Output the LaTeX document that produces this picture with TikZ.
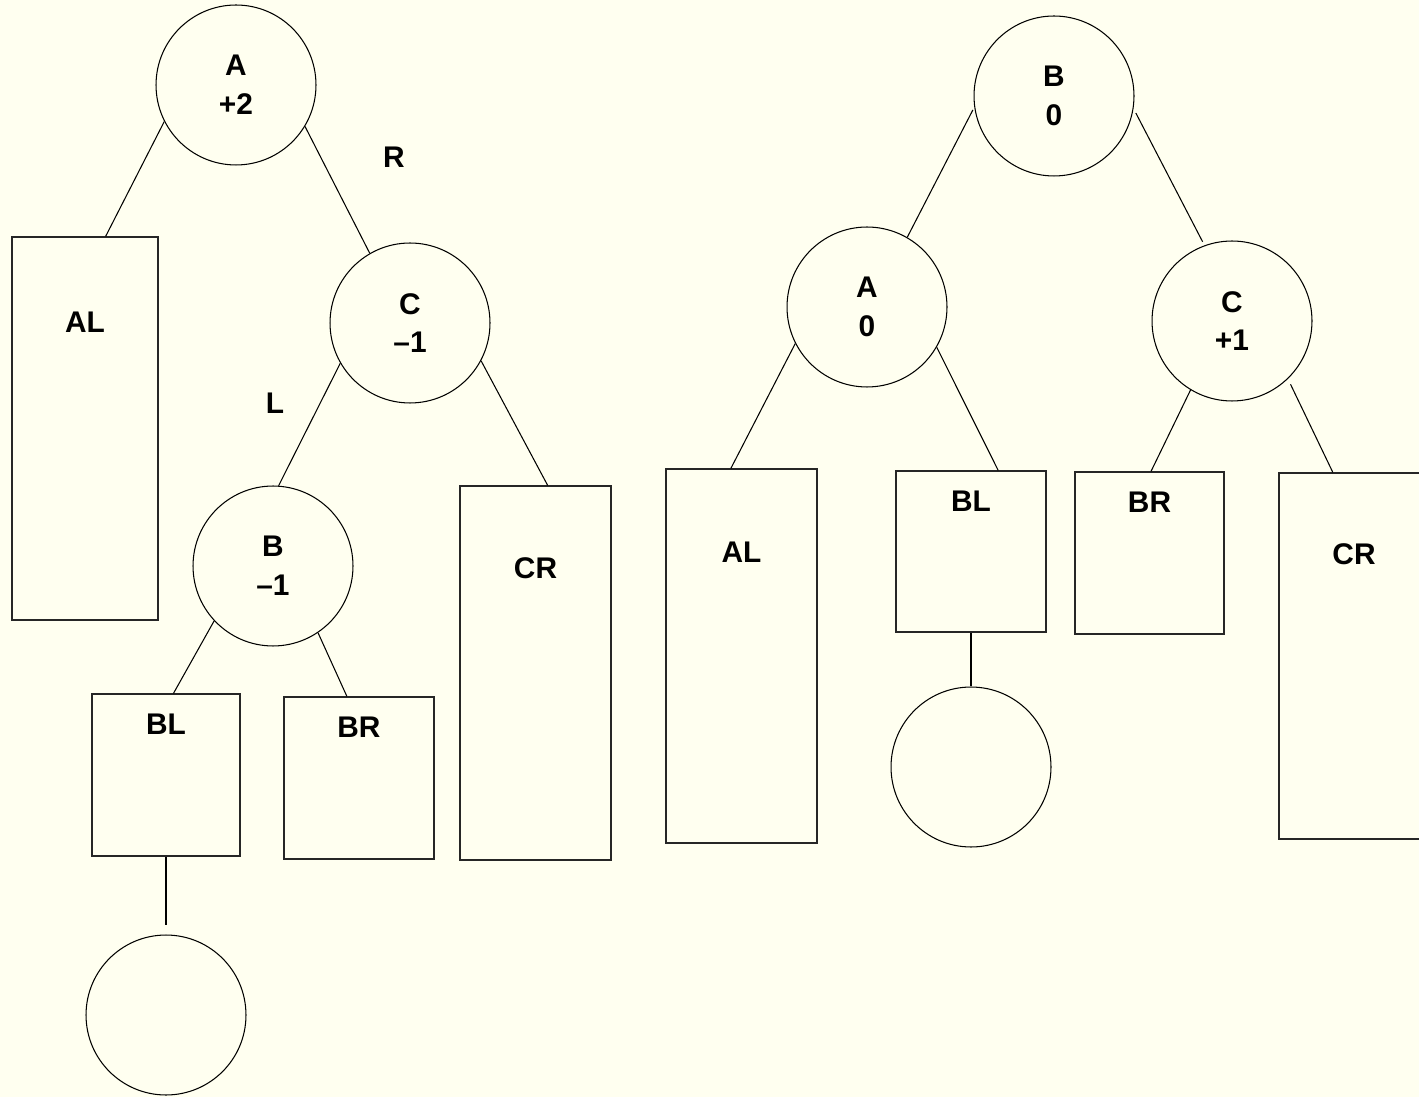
\documentclass[tikz,border=0pt]{standalone}
\usepackage{fontspec}
\setmainfont{Liberation Sans}
\usetikzlibrary{positioning,calc}
\definecolor{ivory}{RGB}{255,255,240}
\tikzset {
    style circ/.style={
        draw=black,
        line width=0.6pt,
        circle, % node of the tree
        minimum size=3.2cm,
        inner sep=0pt,
        align=center,
        font=\fontsize{17}{22}\selectfont\bfseries,
    },
    style sub/.style={
        draw=black!85,
        line width=0.7pt,
        rectangle, % subtree
        inner sep=0pt,
    },
    style lbl/.style={
        font=\fontsize{17}{22}\selectfont\bfseries,
        inner sep=0pt,
    },
}
\begin{document}
\begin{tikzpicture}
[x=0.02cm, y=-0.02cm, line width=0.6pt]
\fill[ivory] (0,0) rectangle (1419,1097);
\useasboundingbox (0,0) rectangle (1419,1097);

% before the rotation
\node[style circ] at (236,85) (a1) {A\\+2};
\node[style circ] at (410,323) (c1) {C\\\textendash1};
\node[style circ] at (273,566) (b1) {B\\\textendash1};
\node[style circ] at (166,1015) (nil1) {};
\node[style sub, minimum width=2.92cm, minimum height=7.66cm] at (85,428.5) (al1) {};
\node[style sub, minimum width=2.96cm, minimum height=3.24cm] at (166,775) (bl1) {};
\node[style sub, minimum width=3cm, minimum height=3.24cm] at (359,778) (br1) {};
\node[style sub, minimum width=3.02cm, minimum height=7.48cm] at (535.5,673) (cr1) {};
\node[style lbl] at ($(al1.north)+(0,86)$) (al1t) {AL};
\node[style lbl] at ($(bl1.north)+(0,31)$) (bl1t) {BL};
\node[style lbl] at ($(br1.north)+(0,31)$) (br1t) {BR};
\node[style lbl] at ($(cr1.north)+(0,83)$) (cr1t) {CR};
\node[style lbl] at (394,157) (rlab) {R};
\node[style lbl] at (275,403) (llab) {L};

% after the rotation
\node[style circ] at (1054,96) (b2) {B\\0};
\node[style circ] at (867,307) (a2) {A\\0};
\node[style circ] at (1232,321) (c2) {C\\+1};
\node[style circ] at (971,767) (nil2) {};
\node[style sub, minimum width=3.02cm, minimum height=7.48cm] at (741.5,656) (al2) {};
\node[style sub, minimum width=3cm, minimum height=3.22cm] at (971,551.5) (bl2) {};
\node[style sub, minimum width=2.98cm, minimum height=3.24cm] at (1149.5,553) (br2) {};
\node[style sub, minimum width=3cm, minimum height=7.32cm] at (1354,656) (cr2) {};
\node[style lbl] at ($(al2.north)+(0,84)$) (al2t) {AL};
\node[style lbl] at ($(bl2.north)+(0,31)$) (bl2t) {BL};
\node[style lbl] at ($(br2.north)+(0,31)$) (br2t) {BR};
\node[style lbl] at ($(cr2.north)+(0,82)$) (cr2t) {CR};

\draw (a1.207) -- ($(al1.north west)!0.64!(al1.north east)$);
\draw (a1.329) -- (c1.120);
\draw (c1.210) -- (b1.86);
\draw (b1.223) -- ($(bl1.north west)!0.55!(bl1.north east)$);
\draw (b1.304) -- ($(br1.north west)!0.42!(br1.north east)$);
\draw (c1.332) -- ($(cr1.north west)!0.58!(cr1.north east)$);
\draw[shorten >=0.18cm] (bl1.south) -- (nil1.north);

\draw[shorten <=0.06cm] (b2.188) -- (a2.60);
\draw[shorten <=0.1cm, shorten >=0.08cm] (b2.351) -- (c2.110);
\draw (a2.207) -- ($(al2.north west)!0.43!(al2.north east)$);
\draw (a2.330) -- ($(bl2.north west)!0.68!(bl2.north east)$);
\draw (c2.239) -- ($(br2.north west)!0.51!(br2.north east)$);
\draw[shorten <=0.12cm] (c2.314) -- ($(cr2.north west)!0.36!(cr2.north east)$);
\draw (bl2.south) -- (nil2.north);
\end{tikzpicture}
\end{document}
